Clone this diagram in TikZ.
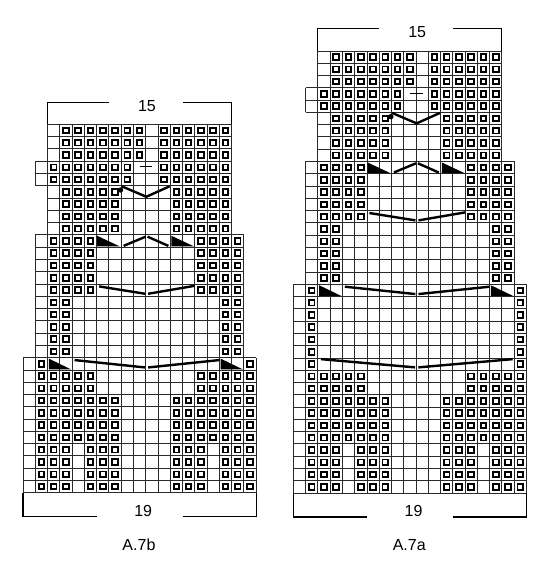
\documentclass[tikz,border=0pt]{standalone}
\usepackage{fontspec}
\setmainfont{Liberation Sans}
\usepackage{tikz}
\usetikzlibrary{positioning}
\definecolor{gridgray}{HTML}{2A2A2A}

% one square stitch, centred in cell (#1,#2)
\newcommand{\stitch}[2]{\draw[blk] (#1-0.5,#2-0.5) +(-2.8pt,-2.8pt) rectangle +(2.8pt,2.8pt);}

% rows 1-10 of the lower part, same in both charts
\newcommand{\lowerpart}{%
    \foreach \r in {1,...,4} {\foreach \c in {2,3,4,6,7,8,13,14,15,17,18,19} {\stitch{\c}{\r}}}
    \foreach \r in {5,...,8} {\foreach \c in {2,3,4,5,6,7,8,13,14,15,16,17,18,19} {\stitch{\c}{\r}}}
    \foreach \r in {9,10} {\foreach \c in {2,3,4,5,6,15,16,17,18,19} {\stitch{\c}{\r}}}
}

% last row of the lower part and the two upper parts; #1 = rows of the lower part
\newcommand{\upperparts}[1]{%
    \draw[gridln] (1,#1) grid (18,#1+10);
    \draw[gridln] (2,#1+10) grid (17,#1+19);
    \draw[gridln] (1,#1+14) grid (2,#1+16);
    \stitch{2}{#1} \stitch{19}{#1}
    \foreach \r/\cl in {1/{3,4,17,18}, 2/{3,4,17,18}, 3/{3,4,17,18}, 4/{3,4,17,18}, 5/{3,4,17,18},
                        6/{3,4,5,6,15,16,17,18}, 7/{3,4,5,6,15,16,17,18}, 8/{3,4,5,6,15,16,17,18},
                        9/{3,4,5,6,15,16,17,18}, 10/{3,4,5,6,15,16,17,18},
                        11/{4,5,6,7,8,13,14,15,16,17}, 12/{4,5,6,7,8,13,14,15,16,17},
                        13/{4,5,6,7,8,13,14,15,16,17}, 14/{4,5,6,7,8,13,14,15,16,17},
                        15/{3,4,5,6,7,8,9,12,13,14,15,16,17}, 16/{3,4,5,6,7,8,9,12,13,14,15,16,17},
                        17/{4,5,6,7,8,9,10,12,13,14,15,16,17}, 18/{4,5,6,7,8,9,10,12,13,14,15,16,17},
                        19/{4,5,6,7,8,9,10,12,13,14,15,16,17}}
        {\foreach \c in \cl {\stitch{\c}{#1+\r}}}
    % decreases
    \fill[dec] (2.1,#1-0.08) -- (2.1,#1-0.95) -- (3.9,#1-0.95) -- cycle;
    \fill[dec] (16.1,#1-0.08) -- (16.1,#1-0.95) -- (17.9,#1-0.95) -- cycle;
    \draw[knit] (4.2,#1-0.2) -- (9.95,#1-0.8);
    \draw[knit] (10.2,#1-0.8) -- (16,#1-0.2);
    \fill[dec] (6.05,#1+9.92) -- (6.05,#1+9.05) -- (7.9,#1+9.05) -- cycle;
    \fill[dec] (12.1,#1+9.92) -- (12.1,#1+9.05) -- (13.95,#1+9.05) -- cycle;
    \draw[knit] (8.2,#1+9.1) -- (10,#1+9.85);
    \draw[knit] (10.15,#1+9.85) -- (11.85,#1+9.1);
    \draw[knit] (6.2,#1+5.8) -- (9.95,#1+5.2);
    \draw[knit] (10.2,#1+5.2) -- (14,#1+5.85);
    \draw[knit] (8.05,#1+13.95) -- (10.05,#1+13.1) -- (11.95,#1+13.95);
    \fill (7.95,#1+13.65) circle (2.7pt);
    \draw[dashln] (9.5,#1+15.55) -- (10.55,#1+15.55);
    % width above
    \draw[brk] (7,#1+20.8) -- (2,#1+20.8) -- (2,#1+19);
    \draw[brk] (13,#1+20.8) -- (17,#1+20.8) -- (17,#1+19);
}

\begin{document}
\begin{tikzpicture}[x=1pt, y=-1pt,
    gridln/.style={draw=gridgray, line width=0.8pt, step=1},
    blk/.style={draw=black, line width=1.9pt},
    knit/.style={draw=black, line width=2.4pt},
    dashln/.style={draw=black, line width=1.5pt},
    dec/.style={fill=black},
    brk/.style={draw=black, line width=1.2pt},
    lbl/.style={font=\fontsize{16}{18}\selectfont, inner sep=0pt, anchor=base},
]
    \useasboundingbox (0,0) rectangle (550,565);

    % A.7b
    \begin{scope}[shift={(23,492.7)}, x=12.27pt, y=12.28pt]
        \draw[gridln] (0,0) grid (19,11);
        \lowerpart
        \upperparts{11}
        \node[lbl] (widthtopb) at (10.1,31.08) {15};
        \draw[brk] (6,-1.96) -- (0,-1.96) -- (0,0);
        \draw[brk] (13,-1.96) -- (19,-1.96) -- (19,0);
        \node[lbl] (widthbotb) at (9.8,-1.92) {19};
        \node[lbl] (nameb) at (9.45,-4.67) {A.7b};
    \end{scope}

    % A.7a
    \begin{scope}[shift={(293.3,493)}, x=12.27pt, y=12.28pt]
        \draw[gridln] (0,0) grid (19,17);
        \lowerpart
        \foreach \r in {11,...,16} {\stitch{2}{\r} \stitch{19}{\r}}
        \draw[knit] (2.25,10.9) -- (9.92,10.23);
        \draw[knit] (10.19,10.23) -- (17.88,10.9);
        \upperparts{17}
        \node[lbl] (widthtopa) at (10.1,37.08) {15};
        \draw[brk] (6,-1.96) -- (0,-1.96) -- (0,0);
        \draw[brk] (13,-1.96) -- (19,-1.96) -- (19,0);
        \node[lbl] (widthbota) at (9.8,-1.92) {19};
        \node[lbl] (namea) at (9.45,-4.67) {A.7a};
    \end{scope}
\end{tikzpicture}
\end{document}
